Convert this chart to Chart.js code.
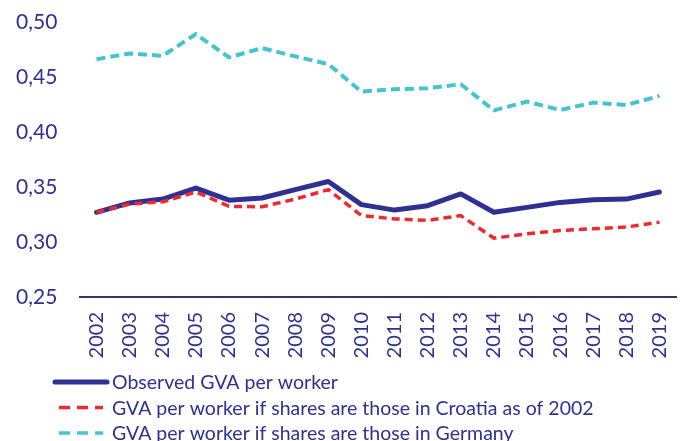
<!DOCTYPE html>
<html>
<head>
<meta charset="utf-8">
<script src="https://cdn.jsdelivr.net/npm/chart.js@4"></script>
<style>
  html, body { margin: 0; padding: 0; background: #fff; }
  #wrap { width: 684px; height: 441px; }
</style>
</head>
<body>
<div id="wrap"><canvas id="chart" width="684" height="441"></canvas></div>
<script>
const years = ['2002', '2003', '2004', '2005', '2006', '2007', '2008', '2009', '2010',
    '2011', '2012', '2013', '2014', '2015', '2016', '2017', '2018', '2019']

const observed = [0.327, 0.3355, 0.339, 0.349, 0.338, 0.340, 0.3476, 0.355, 0.334,
    0.329, 0.333, 0.3437, 0.327, 0.3315, 0.336, 0.3385, 0.339, 0.3455]

const croatia2002 = [0.327, 0.3345, 0.3365, 0.3455, 0.3324, 0.332, 0.339, 0.3476, 0.324,
    0.321, 0.3197, 0.324, 0.3035, 0.3075, 0.3105, 0.312, 0.3136, 0.318]

const germany = [0.4662, 0.4714, 0.4693, 0.489, 0.4678, 0.4763, 0.4687, 0.4617, 0.4367,
    0.4389, 0.4398, 0.4434, 0.4197, 0.4276, 0.42, 0.4267, 0.4245, 0.4328]

const seriesNames = ['Observed GVA per worker',
    'GVA per worker if shares are those in Croatia as of 2002',
    'GVA per worker if shares are those in Germany']

const navy = '#2e3192'
const red = '#ee2a2e'
const cyan = '#45c3cf'
const fontFamily = 'Lato, "Open Sans", sans-serif'

// legend drawn by hand so each entry gets its own row
const legendRows = {
    id: 'legendRows',
    afterDraw(chart) {
        let ctx = chart.ctx
        let sets = chart.data.datasets
        let top = 382
        ctx.save()
        ctx.font = '19.5px ' + fontFamily
        ctx.textBaseline = 'middle'
        sets.forEach((ds, i) => {
            let y = top + i * 25.5
            ctx.strokeStyle = ds.borderColor
            if (i == 0) {
                ctx.lineWidth = 5
                ctx.lineCap = 'round'
                ctx.setLineDash([])
                ctx.beginPath()
                ctx.moveTo(55, y)
                ctx.lineTo(107, y)
                ctx.stroke()
            } else {
                ctx.lineCap = 'butt'
                ctx.lineWidth = 3.5
                ctx.setLineDash([11, 7])
                ctx.beginPath()
                ctx.moveTo(59, y)
                ctx.lineTo(103, y)
                ctx.stroke()
            }
            ctx.fillStyle = navy
            ctx.fillText(ds.label, 112, y + 1)
        })
        ctx.restore()
    }
}

const ctx = document.getElementById('chart')

chart = new Chart(ctx, {
    type: 'line',
    data: {
        labels: years,
        datasets: [{
            label: seriesNames[0],
            data: observed,
            borderColor: navy,
            borderWidth: 5,
            pointRadius: 0,
            borderCapStyle: 'round',
            borderJoinStyle: 'round',
            order: 1
        }, {
            label: seriesNames[1],
            data: croatia2002,
            borderColor: red,
            borderWidth: 3.5,
            borderDash: [8, 5],
            pointRadius: 0,
            order: 0
        }, {
            label: seriesNames[2],
            data: germany,
            borderColor: cyan,
            borderWidth: 4,
            borderDash: [9, 5],
            pointRadius: 0,
            order: 2
        }]
    },
    options: {
        responsive: false,
        animation: false,
        layout: {
            padding: { left: 16, right: 8, top: 22, bottom: 74 }
        },
        scales: {
            x: {
                offset: true,
                grid: { display: false, drawTicks: false },
                border: { color: '#2b3a6b', width: 2 },
                ticks: {
                    color: navy,
                    font: { family: fontFamily, size: 20 },
                    minRotation: 90,
                    maxRotation: 90,
                    padding: 15
                },
                afterFit: function(scale) {
                    scale.height = 70
                    scale.paddingLeft = 0
                    scale.paddingRight = 0
                }
            },
            y: {
                min: 0.25,
                max: 0.50,
                grid: { display: false, drawTicks: false },
                border: { display: false },
                ticks: {
                    stepSize: 0.05,
                    color: navy,
                    font: { family: fontFamily, size: 21 },
                    padding: 0,
                    crossAlign: 'far',
                    callback: function(value) {
                        return Number(value).toFixed(2).replace('.', ',')
                    }
                },
                afterFit: function(scale) {
                    scale.width = 64
                    scale.paddingTop = 0
                    scale.paddingBottom = 0
                }
            }
        },
        plugins: {
            legend: { display: false },
            tooltip: { enabled: false }
        }
    },
    plugins: [legendRows]
})
</script>
</body>
</html>
